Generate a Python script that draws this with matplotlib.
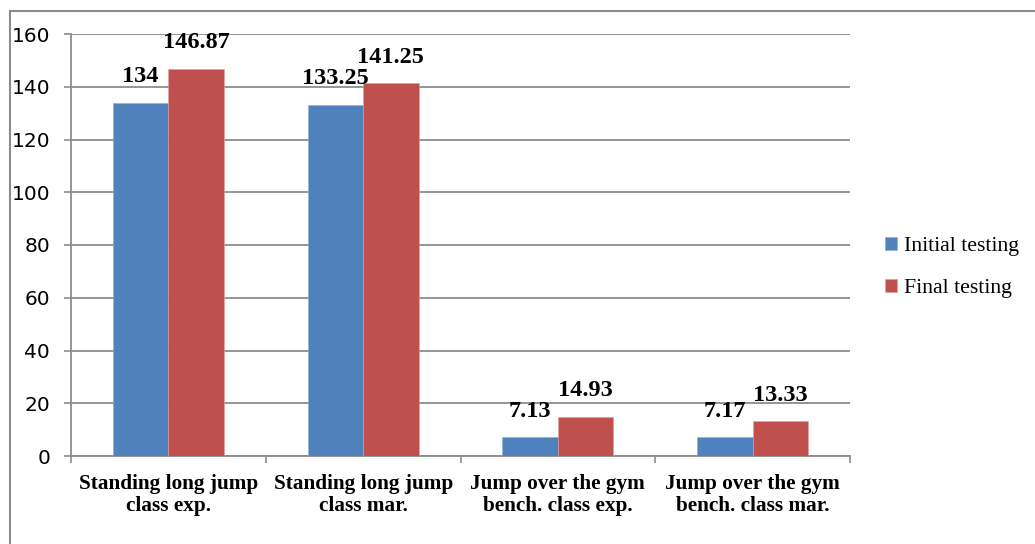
import numpy as np
import matplotlib
matplotlib.use('Agg')
import matplotlib.pyplot as plt
from matplotlib.lines import Line2D

#
# Data
#
categories = ['Standing long jump\nclass exp.', 'Standing long jump\nclass mar.',
              'Jump over the gym\nbench. class exp.', 'Jump over the gym\nbench. class mar.']
initial = [134, 133.25, 7.13, 7.17]
final = [146.87, 141.25, 14.93, 13.33]
initial_lbl = ['134', '133.25', '7.13', '7.17']
final_lbl = ['146.87', '141.25', '14.93', '13.33']
yticks = [0, 20, 40, 60, 80, 100, 120, 140, 160]

blue = '#4F81BD'
red = '#C0504D'
grid = '#8C8C8C'
serif = 'Liberation Serif'

fig = plt.figure(figsize=(10.35, 5.44), dpi=100)
ax = fig.add_axes([71/1035, 1-456/544, (850-71)/1035, (456-34)/544])

x = np.arange(len(categories))
w = 0.285
b1 = ax.bar(x - w/2, initial, w, color=blue, edgecolor='#8FB0D8', linewidth=0.4,
            label='Initial testing', zorder=3)
b2 = ax.bar(x + w/2, final, w, color=red, edgecolor='#E0A0A0', linewidth=0.4,
            label='Final testing', zorder=3)

for bars, labs in ((b1, initial_lbl), (b2, final_lbl)):
    for r, t in zip(bars, labs):
        ax.annotate(t, (r.get_x() + r.get_width()/2, r.get_height()),
                    xytext=(0, 11), textcoords='offset points',
                    ha='center', va='bottom', fontsize=17.5, fontweight='bold',
                    family=serif, zorder=5)

ax.set_ylim(0, 160)
ax.set_xlim(-0.5, 3.5)
ax.set_yticks(yticks)
ax.yaxis.grid(True, color=grid, linewidth=1.3, zorder=0)
ax.tick_params(axis='y', length=5, width=1.2, color=grid, labelsize=14.5, pad=10)

ax.set_xticks(np.arange(-0.5, 4.0, 1.0))
ax.set_xticklabels([])
ax.set_xticks(x, minor=True)
ax.set_xticklabels(categories, minor=True, fontsize=15.3, fontweight='bold',
                   family=serif, linespacing=1.15)
ax.tick_params(axis='x', which='major', length=5, width=1.2, color=grid, direction='out')
ax.tick_params(axis='x', which='minor', length=0, pad=13)

for s in ('top', 'right'):
    ax.spines[s].set_visible(False)
for s in ('left', 'bottom'):
    ax.spines[s].set_color(grid)
    ax.spines[s].set_linewidth(1.3)

leg = fig.legend(handles=[b1, b2], loc='upper left', bbox_to_anchor=(865/1035, 1-217/544),
                 frameon=False, prop={'family': serif, 'size': 15.7},
                 handlelength=0.55, handleheight=0.55, handletextpad=0.32, labelspacing=1.05)

# outer frame
fig.add_artist(Line2D([9.5/1035, 9.5/1035], [0, 1-10.5/544], transform=fig.transFigure,
                      color='#8C8C8C', linewidth=1.5))
fig.add_artist(Line2D([9.5/1035, 1], [1-10.5/544, 1-10.5/544], transform=fig.transFigure,
                      color='#8C8C8C', linewidth=1.5))

fig.savefig('out.png', dpi=100, facecolor='white')
